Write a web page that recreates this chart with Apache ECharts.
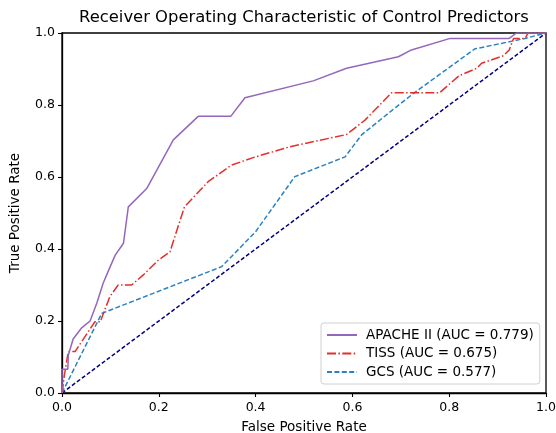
<!DOCTYPE html>
<html><head><meta charset="utf-8">
<script src="https://cdn.jsdelivr.net/npm/echarts@6/dist/echarts.min.js"></script>
<style>html,body{margin:0;padding:0;background:#fff}#c{width:556px;height:433px}</style>
</head><body><div id="c"></div>
<script>
var titleText = 'Receiver Operating Characteristic of Control Predictors';
var xName = 'False Positive Rate';
var yName = 'True Positive Rate';
var seriesNames = ['APACHE II (AUC = 0.779)', 'TISS (AUC = 0.675)', 'GCS (AUC = 0.577)'];
var tickValues = [0, 0.2, 0.4, 0.6, 0.8, 1.0];

var apacheFpr = [0, 0, 0, 0.012, 0.013, 0.023, 0.04, 0.058, 0.072, 0.085, 0.096, 0.11, 0.127, 0.137, 0.175, 0.23, 0.282, 0.349, 0.378, 0.519, 0.588, 0.695, 0.722, 0.802, 0.924, 0.939, 1.0];
var apacheTpr = [0, 0.05, 0.066, 0.066, 0.105, 0.15, 0.18, 0.2, 0.25, 0.305, 0.34, 0.383, 0.416, 0.517, 0.568, 0.703, 0.769, 0.769, 0.82, 0.867, 0.902, 0.934, 0.953, 0.985, 0.985, 1.0, 1.0];

var tissFpr = [0, 0.005, 0.013, 0.027, 0.068, 0.079, 0.099, 0.116, 0.144, 0.168, 0.199, 0.223, 0.253, 0.302, 0.35, 0.4, 0.471, 0.588, 0.626, 0.681, 0.78, 0.82, 0.857, 0.867, 0.912, 0.924, 0.933, 0.957, 0.963, 1.0];
var tissTpr = [0, 0.05, 0.115, 0.115, 0.198, 0.198, 0.268, 0.3, 0.3, 0.328, 0.369, 0.392, 0.517, 0.587, 0.633, 0.656, 0.684, 0.718, 0.758, 0.834, 0.834, 0.881, 0.902, 0.916, 0.937, 0.953, 0.985, 0.985, 1.0, 1.0];

var gcsFpr = [0, 0.082, 0.33, 0.4, 0.481, 0.585, 0.619, 0.691, 0.726, 0.853, 0.957, 1.0];
var gcsTpr = [0, 0.221, 0.351, 0.448, 0.601, 0.656, 0.717, 0.795, 0.832, 0.956, 0.985, 1.0];

var diagX = [0, 1];
var diagY = [0, 1];

function zip(a, b) { return a.map(function (v, i) { return [v, b[i]]; }); }

var FONT = 'DejaVu Sans';
var chart = echarts.init(document.getElementById('c'), null, {renderer: 'canvas'});
var axisCommon = {
  type: 'value', min: 0, max: 1, interval: 0.2,
  axisLine: {show: true, lineStyle: {color: '#000', width: 1.3}},
  axisTick: {show: true, inside: false, length: 4, lineStyle: {color: '#000', width: 1.1}},
  splitLine: {show: false},
  axisLabel: {color: '#000', fontFamily: FONT, fontSize: 12.5, formatter: function (v) { return v.toFixed(1); }}
};
chart.setOption({
  animation: false,
  backgroundColor: '#fff',
  title: {text: titleText, left: 79, top: 10, padding: 0,
    textStyle: {fontFamily: FONT, fontSize: 16.4, fontWeight: 'normal', color: '#000'}},
  grid: {left: 62, right: 10, top: 33, bottom: 40, containLabel: false, outerBoundsMode: 'none',
    show: true, borderColor: '#000', borderWidth: 1.3, backgroundColor: 'transparent'},
  xAxis: Object.assign({}, axisCommon, {
    name: xName, nameLocation: 'middle', nameGap: 27,
    nameTextStyle: {fontFamily: FONT, fontSize: 13.5, color: '#000'},
    axisLabel: Object.assign({}, axisCommon.axisLabel, {margin: 8})
  }),
  yAxis: Object.assign({}, axisCommon, {
    name: yName, nameLocation: 'middle', nameGap: 40,
    nameTextStyle: {fontFamily: FONT, fontSize: 13.5, color: '#000'},
    axisLabel: Object.assign({}, axisCommon.axisLabel, {margin: 7})
  }),
  legend: {
    data: seriesNames,
    orient: 'vertical', left: 321, top: 323,
    itemWidth: 30, itemHeight: 10, itemGap: 4.5,
    padding: [5, 6, 5, 5],
    itemStyle: {opacity: 0},
    backgroundColor: 'rgba(255,255,255,0.85)', borderColor: '#d0d0d0', borderWidth: 1, borderRadius: 3,
    textStyle: {fontFamily: FONT, fontSize: 13.5, color: '#000', padding: [0, 0, 0, 4]}
  },
  series: [
    {name: seriesNames[0], type: 'line', data: zip(apacheFpr, apacheTpr), showSymbol: false, symbol: 'none',
      lineStyle: {color: '#9467bd', width: 1.5, type: 'solid'}, itemStyle: {color: '#9467bd'}, z: 4},
    {name: seriesNames[1], type: 'line', data: zip(tissFpr, tissTpr), showSymbol: false, symbol: 'none',
      lineStyle: {color: '#e0302c', width: 1.5, type: [9, 2.4, 1.5, 2.4]}, itemStyle: {color: '#e0302c'}, z: 3},
    {name: seriesNames[2], type: 'line', data: zip(gcsFpr, gcsTpr), showSymbol: false, symbol: 'none',
      lineStyle: {color: '#2a82c4', width: 1.5, type: [5, 2.4]}, itemStyle: {color: '#2a82c4'}, z: 2},
    {name: 'diag', type: 'line', data: zip(diagX, diagY), showSymbol: false, symbol: 'none',
      lineStyle: {color: '#000080', width: 1.5, type: [4, 2.2]}, itemStyle: {color: '#000080'}, z: 1}
  ]
});
</script></body></html>
